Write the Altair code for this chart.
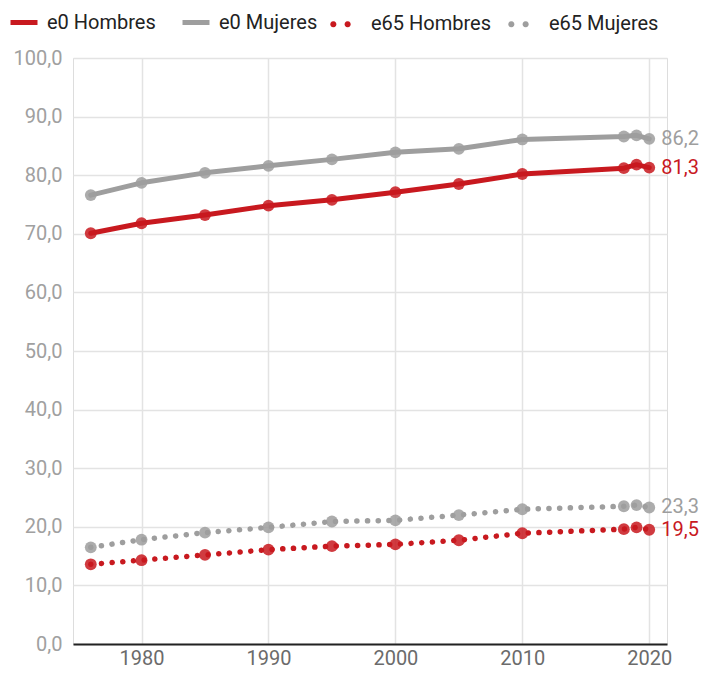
import math
import altair as alt
import pandas as pd

years = [1976, 1980, 1985, 1990, 1995, 2000, 2005, 2010, 2018, 2019, 2020]
e0_hombres = [70.1, 71.8, 73.2, 74.8, 75.8, 77.1, 78.5, 80.2, 81.2, 81.8, 81.3]
e0_mujeres = [76.6, 78.7, 80.4, 81.6, 82.7, 83.9, 84.5, 86.1, 86.6, 86.8, 86.2]
e65_hombres = [13.6, 14.3, 15.2, 16.1, 16.7, 17.0, 17.7, 18.9, 19.6, 19.9, 19.5]
e65_mujeres = [16.5, 17.8, 19.0, 19.9, 20.9, 21.1, 22.0, 23.0, 23.5, 23.7, 23.3]

series_names = ["e0 Hombres", "e0 Mujeres", "e65 Hombres", "e65 Mujeres"]
series_values = [e0_hombres, e0_mujeres, e65_hombres, e65_mujeres]

RED = "#c8191f"
GRAY = "#9e9e9e"
colors = [RED, GRAY, RED, GRAY]

rows = []
for name, vals in zip(series_names, series_values):
    for y, v in zip(years, vals):
        rows.append({"year": y, "value": v, "serie": name})
df = pd.DataFrame(rows)

FONT = "Roboto"

x = alt.X("year:Q", scale=alt.Scale(domain=[1974.6, 2021.4], nice=False, zero=False),
          axis=alt.Axis(values=[1980, 1990, 2000, 2010, 2020], format="d", title=None,
                        labelFontSize=20, labelColor="#6b6b6b", labelPadding=4,
                        grid=True, gridColor="#e3e3e3", gridWidth=1.5,
                        ticks=False, domain=True, domainColor="#222222", domainWidth=2,
                        labelFont=FONT))
y = alt.Y("value:Q", scale=alt.Scale(domain=[0, 100], nice=False),
          axis=alt.Axis(values=list(range(0, 101, 10)), title=None,
                        labelExpr="replace(format(datum.value, '.1f'), '.', ',')",
                        labelFontSize=20, labelColor="#a0a0a0", labelPadding=11,
                        grid=True, gridColor="#e3e3e3", gridWidth=1.5,
                        ticks=False, domain=False, labelFont=FONT))

e0_names = series_names[:2]
e65_names = series_names[2:]


def poly_circle(cx, r, n=12):
    pts = []
    for k in range(n):
        a = 2 * math.pi * k / n
        pts.append(f"{cx + r * math.cos(a):.3f},{r * math.sin(a):.3f}")
    return "M " + " L ".join(pts) + " Z"


two_dots = poly_circle(-1.42, 0.23) + " " + poly_circle(-0.36, 0.23)

legend_common = dict(title=None, orient="none", direction="horizontal",
                     columns=2, padding=0, symbolSize=729,
                     labelFontSize=20, labelColor="#222222", labelFont=FONT)

lines_e0 = alt.Chart(df).transform_filter(
    alt.FieldOneOfPredicate(field="serie", oneOf=e0_names)
).mark_line(strokeWidth=5, strokeCap="round", strokeJoin="round").encode(
    x=x, y=y,
    color=alt.Color("serie:N", scale=alt.Scale(domain=e0_names, range=colors[:2]),
                    legend=alt.Legend(legendX=-65, legendY=-51.5, symbolType="stroke",
                                      symbolStrokeWidth=5,
                                      labelOffset=7, columnPadding=16, **legend_common)),
)

lines_e65 = alt.Chart(df).transform_filter(
    alt.FieldOneOfPredicate(field="serie", oneOf=e65_names)
).mark_line(strokeWidth=5.5, strokeCap="round", strokeJoin="round", strokeDash=[0.1, 10.6]).encode(
    x=x, y=y,
    stroke=alt.Stroke("serie:N", scale=alt.Scale(domain=e65_names, range=colors[2:]), legend=None),
)

points_e0 = alt.Chart(df).transform_filter(
    alt.FieldOneOfPredicate(field="serie", oneOf=e0_names)
).mark_circle(size=140, opacity=0.85).encode(
    x=x, y=y,
    fill=alt.Fill("serie:N", scale=alt.Scale(domain=e0_names, range=colors[:2]), legend=None),
)

points_e65 = alt.Chart(df).transform_filter(
    alt.FieldOneOfPredicate(field="serie", oneOf=e65_names)
).mark_circle(size=140, opacity=0.85).encode(
    x=x, y=y,
    fill=alt.Fill("serie:N", scale=alt.Scale(domain=e65_names, range=colors[2:]),
                  legend=alt.Legend(legendX=266, legendY=-47.5, symbolType=two_dots,
                                    symbolStrokeWidth=0, symbolOpacity=1,
                                    labelOffset=5, columnPadding=16, **legend_common)),
)

labels = alt.Chart(df).transform_filter("datum.year == 2020").transform_calculate(
    lab="replace(format(datum.value, '.1f'), '.', ',')"
).mark_text(align="left", baseline="middle", dx=12, fontSize=20, font=FONT).encode(
    x=x, y=y,
    text="lab:N",
    fill=alt.Fill("serie:N", scale=alt.Scale(domain=series_names, range=colors), legend=None),
)

chart = alt.layer(lines_e0, lines_e65, points_e0, points_e65, labels).resolve_scale(
    color="independent", stroke="independent", fill="independent"
).properties(
    width=594, height=586,
    autosize=alt.AutoSizeParams(type="none"),
    padding={"left": 65, "top": 50, "right": 33, "bottom": 25},
).configure_view(stroke=None).configure(font=FONT)

chart.save("out.html", embed_options={"renderer": "svg", "actions": False})
